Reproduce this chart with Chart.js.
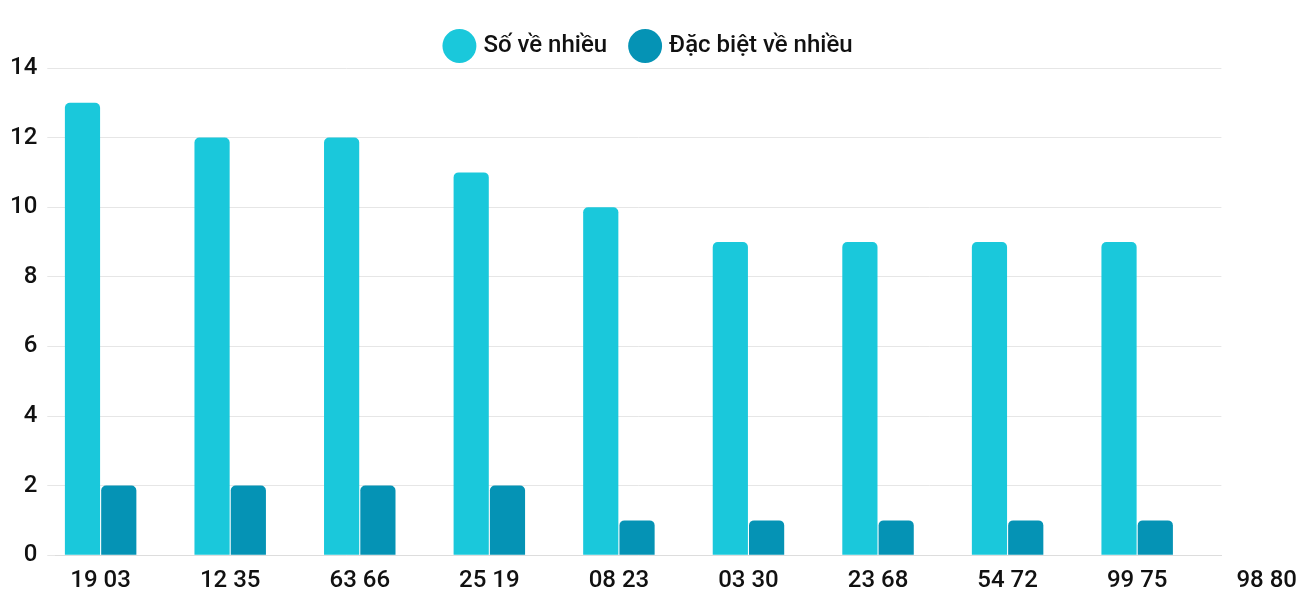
<!DOCTYPE html>
<html lang="vi">
<head>
<meta charset="UTF-8">
<title>Thống kê</title>
<script src="https://cdn.jsdelivr.net/npm/chart.js"></script>
<style>
  html, body { margin: 0; padding: 0; background: #fff; }
  #wrap { width: 1300px; height: 600px; }
</style>
</head>
<body>
<div id="wrap"><canvas id="chart"></canvas></div>
<script>
// du lieu doc tu hinh
var labels = ['19 03', '12 35', '63 66', '25 19', '08 23', '03 30', '23 68', '54 72', '99 75', '98 80'];
var soVeNhieu = [13, 12, 12, 11, 10, 9, 9, 9, 9, 8];
var dacBietVeNhieu = [2, 2, 2, 2, 1, 1, 1, 1, 1, 1];
var yTicks = [0, 2, 4, 6, 8, 10, 12, 14];

Chart.defaults.font.family = 'Roboto, sans-serif';
Chart.defaults.color = '#111';

new Chart(document.getElementById('chart'), {
    type: 'bar',
    data: {
        labels: labels,
        datasets: [{
            label: 'Số về nhiều',
            data: soVeNhieu,
            backgroundColor: '#1ac8db',
            borderRadius: { topLeft: 5, topRight: 5 },
            borderSkipped: 'bottom',
            barPercentage: 0.97,
            categoryPercentage: 0.56
        }, {
            label: 'Đặc biệt về nhiều',
            data: dacBietVeNhieu,
            backgroundColor: '#0593b5',
            borderRadius: { topLeft: 5, topRight: 5 },
            borderSkipped: 'bottom',
            barPercentage: 0.97,
            categoryPercentage: 0.56
        }]
    },
    options: {
        responsive: true,
        maintainAspectRatio: false,
        animation: false,
        layout: { padding: { left: 0, right: 0, top: 8, bottom: 2 } },
        plugins: {
            tooltip: { enabled: false },
            legend: {
                labels: {
                    usePointStyle: true,
                    pointStyle: 'circle',
                    boxWidth: 28,
                    boxHeight: 28,
                    padding: 26,
                    font: { size: 24, weight: 500 }
                }
            }
        },
        scales: {
            x: {
                offset: false,
                afterDataLimits: function (axis) {
                    axis.min = -0.35;
                    axis.max = 9.3;
                },
                afterBuildTicks: function (axis) {
                    axis.ticks = labels.map(function (l, i) { return { value: i }; });
                },
                grid: { display: false },
                border: { color: '#ddd' },
                ticks: {
                    font: { size: 24, weight: 500 },
                    maxRotation: 0,
                    autoSkip: false,
                    callback: function (v) { return labels[v]; }
                }
            },
            y: {
                min: 0,
                max: 14,
                afterBuildTicks: function (axis) {
                    axis.ticks = yTicks.map(function (v) { return { value: v }; });
                },
                grid: { color: '#e6e6e6' },
                border: { display: false },
                ticks: { font: { size: 24, weight: 500 }, padding: 10 }
            }
        }
    }
});
</script>
</body>
</html>
